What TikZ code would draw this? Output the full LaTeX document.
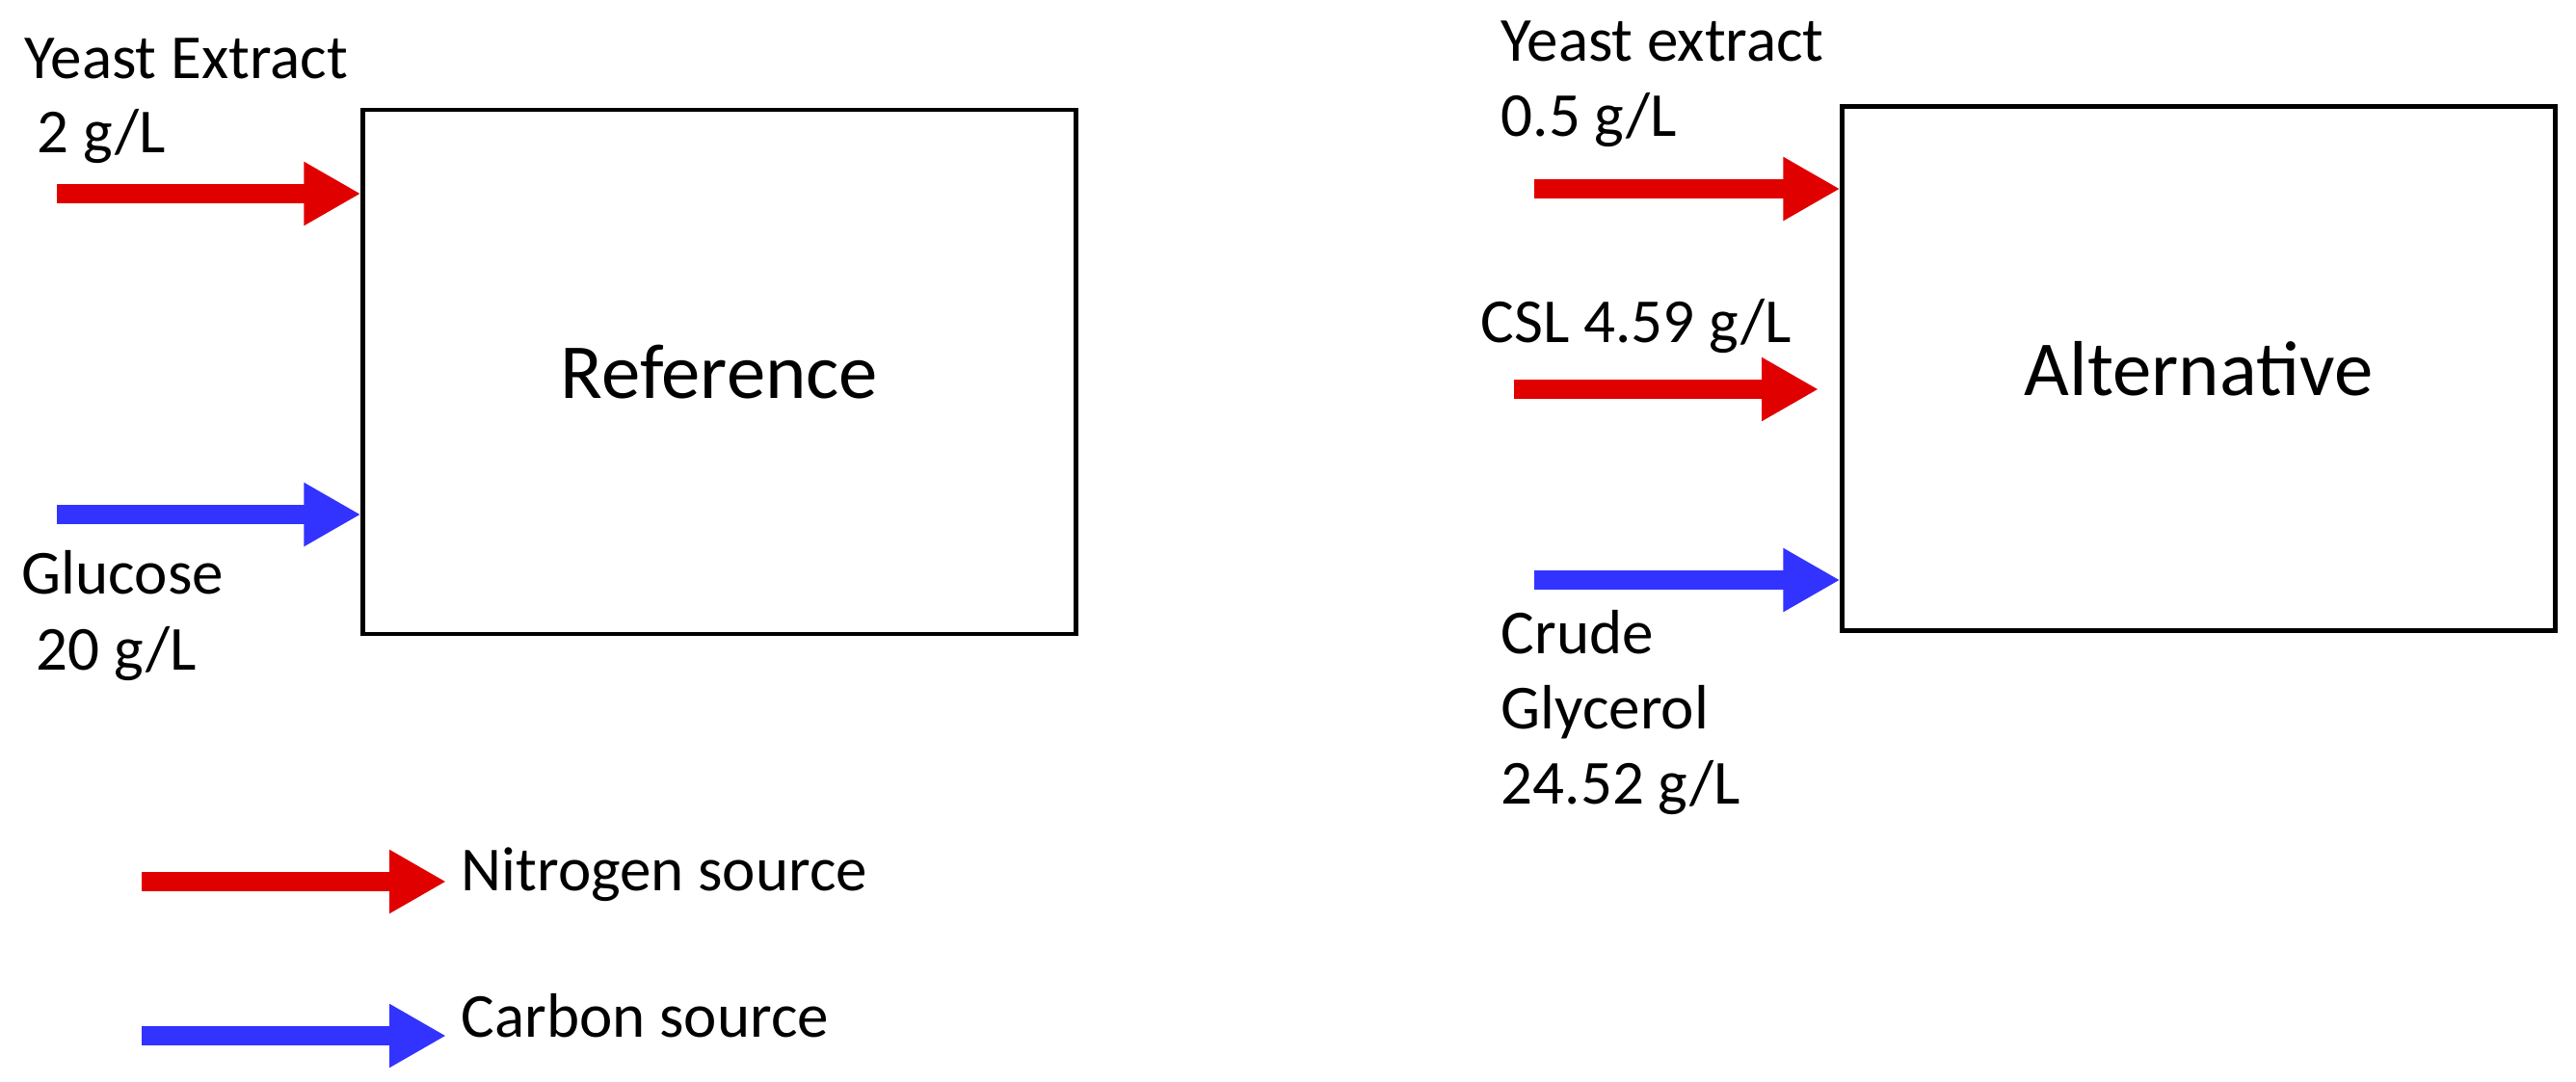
\documentclass[tikz,border=0pt]{standalone}
\usepackage{fontspec}
\setmainfont{Carlito}
\usetikzlibrary{arrows.meta}
\definecolor{nred}{RGB}{224,0,0}
\definecolor{cblue}{RGB}{51,51,255}
\tikzset{
    flow/.style = {line width = 0.2cm, -{Triangle[length = 0.59cm, width = 0.62cm]}},
    nflow/.style = {flow, draw = nred},
    cflow/.style = {flow, draw = cblue},
    lbl/.style = {anchor = base west, inner sep = 0, font = \fontsize{18.5}{22}\selectfont},
    tank/.style = {draw, line width = 1.2pt, inner sep = 0, minimum width = 7.4cm, minimum height = 5.44cm, font = \fontsize{23}{28}\selectfont}
}
\begin{document}
\begin{tikzpicture}
                \useasboundingbox (0,0) rectangle (26.73,-11.22);
                % reference medium
                \node[tank] (ref) at (7.465,-3.86) {Reference};
                \node[lbl] (ye1) at (0.25,-0.81) {Yeast Extract};
                \node[lbl] (ye1c) at (0.38,-1.58) {2 g/L};
                \node[lbl] (glc) at (0.22,-6.16) {Glucose};
                \node[lbl] (glcc) at (0.37,-6.95) {20 g/L};
                \coordinate (ye1s) at (0.59,-2.01);
                \coordinate (glcs) at (0.59,-5.34);
                \draw[nflow] (ye1s) -- (ye1s -| ref.west);
                \draw[cflow] (glcs) -- (glcs -| ref.west);
                % alternative medium
                \node[tank] (alt) at (22.815,-3.825) {Alternative};
                \node[lbl] (ye2) at (15.57,-0.63) {Yeast extract};
                \node[lbl] (ye2c) at (15.57,-1.41) {0.5 g/L};
                \node[lbl] (csl) at (15.36,-3.55) {CSL 4.59 g/L};
                \node[lbl] (gly1) at (15.57,-6.78) {Crude};
                \node[lbl] (gly2) at (15.57,-7.56) {Glycerol};
                \node[lbl] (gly3) at (15.57,-8.34) {24.52 g/L};
                \coordinate (ye2s) at (15.92,-1.96);
                \coordinate (csls) at (15.71,-4.04);
                \coordinate (csle) at (18.87,-4.04);
                \coordinate (glys) at (15.92,-6.02);
                \draw[nflow] (ye2s) -- (ye2s -| alt.west);
                \draw[nflow] (csls) -- (csle);
                \draw[cflow] (glys) -- (glys -| alt.west);
                % legend
                \coordinate (ns) at (1.47,-9.15);
                \coordinate (ne) at (4.63,-9.15);
                \coordinate (cs) at (1.47,-10.75);
                \coordinate (ce) at (4.63,-10.75);
                \draw[nflow] (ns) -- (ne);
                \draw[cflow] (cs) -- (ce);
                \node[lbl] (nlab) at (4.78,-9.24) {Nitrogen source};
                \node[lbl] (clab) at (4.78,-10.76) {Carbon source};
\end{tikzpicture}
\end{document}
